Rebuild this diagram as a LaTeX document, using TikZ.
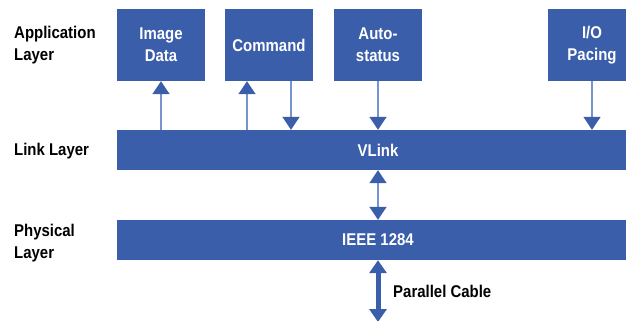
\documentclass[tikz,border=0pt]{standalone}
\usepackage{fontspec}
\setmainfont{Liberation Sans}[FakeStretch=0.88]
\usetikzlibrary{arrows.meta}
\definecolor{vblue}{RGB}{59,94,171}
\definecolor{vline}{RGB}{120,148,206}
\newcommand{\lblfont}{\bfseries\fontsize{17}{22}\selectfont}

\begin{document}
\begin{tikzpicture}[x=1pt,y=-1pt,
    appbox/.style={fill=vblue,text=white,minimum width=88pt,minimum height=72pt,
      inner sep=0pt,align=center,font=\lblfont},
    layerbar/.style={fill=vblue,text=white,minimum width=522pt,minimum height=40pt,
      inner sep=0pt,font=\lblfont},
    layerlbl/.style={anchor=west,align=left,inner sep=0pt,font=\lblfont},
    thinarrow/.style={draw=vline,line width=1.8pt,
      -{Triangle[width=17pt,length=13pt,color=vblue]}},
    thinboth/.style={draw=vline,line width=1.8pt,
      {Triangle[width=17pt,length=13pt,color=vblue]}-{Triangle[width=17pt,length=13pt,color=vblue]}},
    cablearrow/.style={draw=vblue,line width=5pt,
      {Triangle[width=17pt,length=13pt]}-{Triangle[width=17pt,length=13pt]}}]
    \useasboundingbox (0,0) rectangle (626,321);
    \clip (0,0) rectangle (626,321);
    % application layer
    \node[appbox] (img) at (161,45) {Image\\Data};
    \node[appbox] (cmd) at (269,45) {Command};
    \node[appbox] (auto) at (378,45) {Auto-\\status};
    \node[appbox] (iop) at (592,45) {I/O\\Pacing};
    % link and physical layer
    \node[layerbar] (vlink) at (378,150) {VLink};
    \node[layerbar] (ieee) at (378,240) {IEEE 1284};
    % layer names
    \node[layerlbl] (applbl) at (14,45) {Application\\Layer};
    \node[layerlbl] (linklbl) at (14,151) {Link Layer};
    \node[layerlbl] (physlbl) at (14,243) {Physical\\Layer};
    % connections
    \coordinate (cmdup) at ([xshift=-22pt]cmd.south);
    \coordinate (cmddown) at ([xshift=22pt]cmd.south);
    \draw[thinarrow] (img.south |- vlink.north) -- (img.south);
    \draw[thinarrow] (cmdup |- vlink.north) -- (cmdup);
    \draw[thinarrow] (cmddown) -- (cmddown |- vlink.north);
    \draw[thinarrow] (auto.south) -- (auto.south |- vlink.north);
    \draw[thinarrow] (iop.south) -- (iop.south |- vlink.north);
    \draw[thinboth] (vlink.south) -- (ieee.north);
    \coordinate (cableend) at (378,322);
    \draw[cablearrow] (ieee.south) -- (cableend);
    \node[anchor=west,inner sep=0pt,font=\lblfont] (cablelbl) at (393,291) {Parallel Cable};
\end{tikzpicture}
\end{document}
